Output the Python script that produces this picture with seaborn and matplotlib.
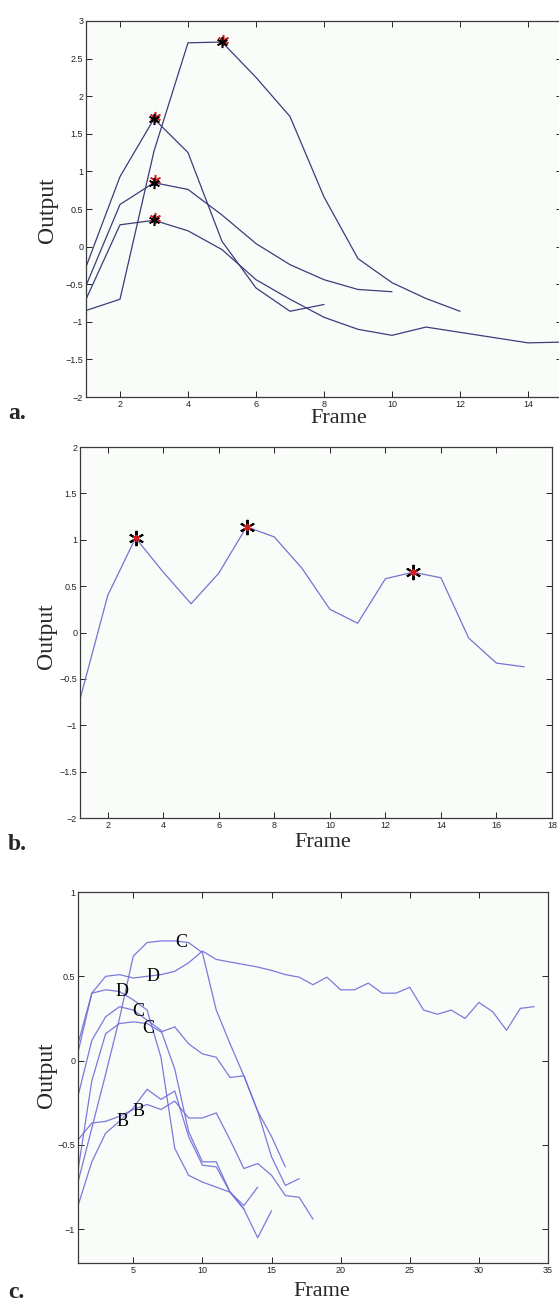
import numpy as np
import pandas as pd
import matplotlib
matplotlib.use('Agg')
import matplotlib.pyplot as plt
import matplotlib.transforms as mtransforms
from matplotlib.ticker import FixedLocator, FuncFormatter
import seaborn as sns

# ---- panel a : four tracks, peak marked by a star ----
a_track1 = [-0.85, -0.70, 1.27, 2.71, 2.72, 2.25, 1.73, 0.66, -0.16, -0.48, -0.69, -0.86]
a_track2 = [-0.27, 0.93, 1.70, 1.25, 0.07, -0.55, -0.86, -0.77]
a_track3 = [-0.52, 0.56, 0.85, 0.76, 0.42, 0.04, -0.24, -0.44, -0.57, -0.60]
a_track4 = [-0.70, 0.29, 0.35, 0.21, -0.04, -0.44, -0.70, -0.94, -1.10, -1.18,
            -1.07, -1.14, -1.21, -1.28, -1.27]
a_peaks = [5, 3, 3, 3]          # frame of the star on each track

# ---- panel b : one track, three peaks ----
b_track = [-0.72, 0.40, 1.02, 0.65, 0.31, 0.64, 1.14, 1.03, 0.69, 0.25, 0.10,
           0.58, 0.65, 0.59, -0.06, -0.33, -0.37]
b_peaks = [3, 7, 13]

# ---- panel c : seven tracks with class letters ----
c_top = [-0.72, -0.40, -0.08, 0.25, 0.62, 0.70, 0.71, 0.71, 0.70, 0.64, 0.30,
         0.10, -0.09, -0.30, -0.45, -0.63]
c_long = [0.05, 0.40, 0.50, 0.51, 0.49, 0.50, 0.51, 0.53, 0.58, 0.65, 0.60,
          0.585, 0.57, 0.555, 0.535, 0.51, 0.495, 0.45, 0.495, 0.42, 0.42, 0.46,
          0.40, 0.40, 0.435, 0.30, 0.275, 0.30, 0.25, 0.345, 0.29, 0.18, 0.31, 0.32]
c_dlow = [0.10, 0.40, 0.42, 0.41, 0.36, 0.30, 0.02, -0.52, -0.68, -0.72, -0.75,
          -0.78, -0.88]
c_mid = [-0.21, 0.12, 0.26, 0.32, 0.30, 0.24, 0.18, -0.05, -0.42, -0.60, -0.60,
         -0.78, -0.88, -1.05, -0.89]
c_low = [-0.65, -0.12, 0.16, 0.22, 0.23, 0.22, 0.17, 0.20, 0.10, 0.04, 0.02,
         -0.10, -0.09, -0.30, -0.57, -0.74, -0.70]
c_ba = [-0.47, -0.37, -0.36, -0.33, -0.29, -0.26, -0.29, -0.24, -0.34, -0.34,
        -0.31, -0.47, -0.64, -0.61, -0.68, -0.80, -0.81, -0.94]
c_bb = [-0.86, -0.60, -0.43, -0.36, -0.28, -0.17, -0.23, -0.18, -0.45, -0.62,
        -0.63, -0.78, -0.86, -0.75]
c_letters = ['C', 'D', 'D', 'C', 'C', 'B', 'B']
c_letter_frame = [8.5, 6.4, 4.2, 5.35, 6.1, 4.2, 5.4]
c_letter_value = [0.70, 0.50, 0.41, 0.29, 0.19, -0.36, -0.30]


def long_df(tracks):
    rows = []
    for k, vals in enumerate(tracks):
        for i, v in enumerate(vals):
            rows.append((k, i + 1, v))
    return pd.DataFrame(rows, columns=['track', 'Frame', 'Output'])


sns.set_style('ticks')
plt.rcParams['font.family'] = ['Liberation Sans', 'DejaVu Sans']
plt.rcParams['axes.linewidth'] = 0.9
plt.rcParams['axes.edgecolor'] = '#3a3a3a'

W, H = 559, 1307
fig = plt.figure(figsize=(W / 100, H / 100), dpi=100)


def px_axes(l, t, r, b):
    return fig.add_axes([l / W, 1 - b / H, (r - l) / W, (b - t) / H])


ax_a = px_axes(86, 21, 562, 397)
ax_b = px_axes(80, 447, 552, 818)
ax_c = px_axes(78, 892, 548, 1263)

minus = FuncFormatter(lambda v, p: f'{v:g}'.replace('-', '\u2212'))
serif = ['Liberation Serif', 'DejaVu Serif']
aster = (6, 2, 0)

# panel a
a_tracks = [a_track1, a_track2, a_track3, a_track4]
sns.lineplot(data=long_df(a_tracks), x='Frame', y='Output', units='track',
             estimator=None, color='#3b3d7c', lw=0.9, ax=ax_a)
up = mtransforms.offset_copy(ax_a.transData, fig=fig, x=0.5, y=1.6, units='points')
for tr, pk in zip(a_tracks, a_peaks):
    ax_a.plot(pk, tr[pk - 1], ls='none', marker=aster, ms=8, mew=1.1,
              color='#d02020', transform=up, zorder=4)
    ax_a.plot(pk, tr[pk - 1], ls='none', marker=aster, ms=8, mew=1.1,
              color='black', zorder=5)
ax_a.set_xlim(1, 15)
ax_a.set_ylim(-2, 3)
ax_a.xaxis.set_major_locator(FixedLocator(np.arange(2, 15, 2)))
ax_a.yaxis.set_major_locator(FixedLocator(np.arange(-2, 3.01, 0.5)))

# panel b
sns.lineplot(x=np.arange(1, len(b_track) + 1), y=b_track, color='#7474cf',
             lw=0.9, ax=ax_b)
for pk in b_peaks:
    ax_b.plot(pk, b_track[pk - 1], ls='none', marker=aster, ms=11, mew=1.4,
              color='black', zorder=4)
    ax_b.plot(pk, b_track[pk - 1], ls='none', marker=aster, ms=5, mew=1.2,
              color='#d02020', zorder=5)
ax_b.set_xlim(1, 18)
ax_b.set_ylim(-2, 2)
ax_b.xaxis.set_major_locator(FixedLocator(np.arange(2, 19, 2)))
ax_b.yaxis.set_major_locator(FixedLocator(np.arange(-2, 2.01, 0.5)))

# panel c
c_tracks = [c_top, c_long, c_dlow, c_mid, c_low, c_ba, c_bb]
sns.lineplot(data=long_df(c_tracks), x='Frame', y='Output', units='track',
             estimator=None, color='#6c6cd8', lw=0.9, alpha=0.9, ax=ax_c)
for lab, fx, fy in zip(c_letters, c_letter_frame, c_letter_value):
    ax_c.text(fx, fy, lab, ha='center', va='center', fontsize=13,
              family=serif, color='black', zorder=5)
ax_c.set_xlim(1, 35)
ax_c.set_ylim(-1.2, 1)
ax_c.xaxis.set_major_locator(FixedLocator(np.arange(5, 36, 5)))
ax_c.yaxis.set_major_locator(FixedLocator([-1, -0.5, 0, 0.5, 1]))

frame_xy = [(0.53, -0.058), (0.515, -0.065), (0.519, -0.078)]
output_xy = [(-0.080, 0.497), (-0.072, 0.49), (-0.066, 0.507)]
for ax, fxy, oxy in zip([ax_a, ax_b, ax_c], frame_xy, output_xy):
    ax.set_facecolor('#f9fcf8')
    ax.tick_params(direction='in', top=True, right=True, length=4, width=0.7,
                   labelsize=6.5, pad=2, colors='#222222')
    ax.xaxis.set_major_formatter(minus)
    ax.yaxis.set_major_formatter(minus)
    ax.set_xlabel('Frame', family=serif, fontsize=16, va='center')
    ax.set_ylabel('Output', family=serif, fontsize=17, va='center')
    ax.xaxis.set_label_coords(*fxy)
    ax.yaxis.set_label_coords(*oxy)

for lab, yc in zip(['a.', 'b.', 'c.'], [413, 845, 1292]):
    fig.text(8 / W, 1 - yc / H, lab, family=serif, fontsize=17,
             fontweight='bold', ha='left', va='center')

fig.savefig('out.png', dpi=100)
